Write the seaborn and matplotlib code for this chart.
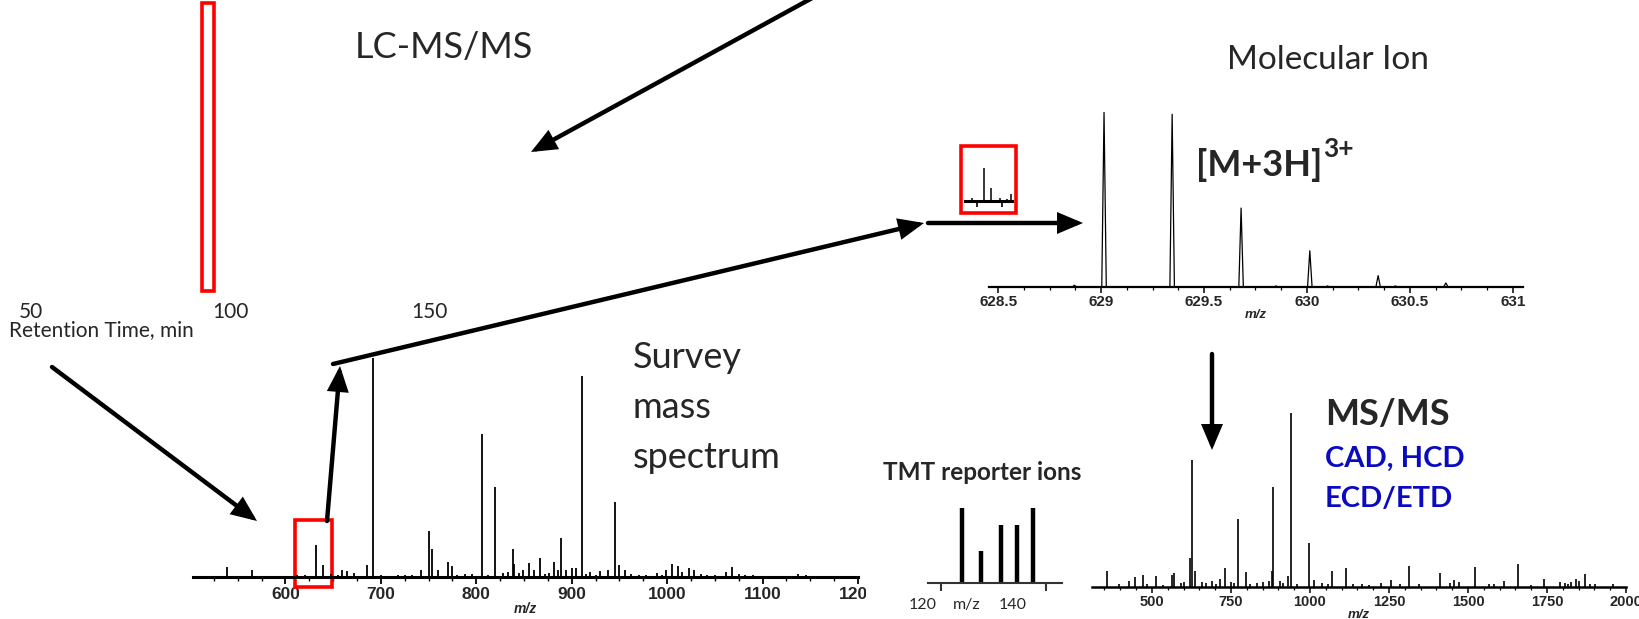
import numpy as np
import pandas as pd
import matplotlib
matplotlib.use("Agg")
import matplotlib.pyplot as plt
import seaborn as sns
from matplotlib.patches import Rectangle, FancyArrowPatch
from matplotlib.ticker import MultipleLocator
from matplotlib.transforms import Bbox, TransformedBbox, blended_transform_factory

# ---------------- data ----------------
rt_ticks = [50, 100, 150]
rt_window = [93, 96]

survey_mz = [539, 565, 612, 620, 632, 639, 648, 655, 659, 665, 672, 685, 692,
             700, 705, 718, 725, 733, 742, 750, 754, 760, 770, 775, 780, 788,
             795, 806, 812, 820, 828, 833, 838, 840, 845, 849, 855, 860, 867,
             872, 876, 881, 886, 889, 894, 900, 904, 911, 915, 919, 925, 930,
             938, 945, 950, 956, 962, 970, 978, 989, 995, 999, 1005, 1011, 1016,
             1023, 1028, 1035, 1042, 1050, 1062, 1068, 1075, 1082, 1090, 1100,
             1120, 1137, 1145, 1160]
survey_int = [4.6, 3.1, 0.8, 1.1, 14.5, 5.6, 1.2, 0.9, 3.1, 2.7, 1.8, 5.3, 100,
              0.8, 0.6, 0.7, 0.9, 0.7, 3.4, 20.9, 12.7, 3.1, 6.7, 4.9, 1.0, 1.5,
              1.3, 65.3, 1.1, 41.2, 1.6, 2.2, 12.7, 6.1, 1.8, 3.4, 6.6, 3.1, 8.9,
              1.5, 2.0, 7.0, 3.4, 18.0, 3.4, 4.3, 4.0, 91.9, 1.2, 2.1, 1.0, 2.7,
              3.4, 34.2, 5.3, 3.1, 1.4, 1.0, 0.8, 1.8, 1.1, 3.4, 6.1, 4.9, 2.3,
              4.3, 3.1, 1.2, 0.9, 1.0, 2.1, 4.6, 1.2, 1.0, 0.7, 0.6,
              0.5, 1.5, 0.7, 0.5]
survey_ticks = [600, 700, 800, 900, 1000, 1100, 1200]

mol_mz = [628.87, 629.014, 629.345, 629.68, 629.85, 630.014, 630.10, 630.346, 630.43, 630.675]
mol_int = [1.0, 100, 98.7, 45.1, 0.6, 20.7, 0.6, 6.5, 0.6, 2.3]
mol_ticks = [628.5, 629, 629.5, 630, 630.5, 631]
mol_ticklabels = ["628.5", "629", "629.5", "630", "630.5", "631"]

msms_mz = [358, 396, 428, 447, 471, 484, 514, 534, 563, 571, 593, 603, 619, 628,
           637, 657, 672, 689, 702, 716, 732, 751, 761, 771, 797, 810, 833, 850,
           870, 880, 883, 906, 914, 932, 941, 958, 997, 1013, 1037, 1057, 1070,
           1113, 1136, 1166, 1186, 1226, 1257, 1284, 1312, 1344, 1410, 1442,
           1456, 1472, 1521, 1566, 1581, 1615, 1658, 1699, 1742, 1791, 1808,
           1815, 1827, 1841, 1852, 1869, 1887, 1903, 1958]
msms_int = [9.4, 1.5, 3.4, 5.6, 6.9, 2.0, 6.1, 1.2, 7.1, 8.0, 2.5, 3.0, 16.7, 73.2,
            9.0, 2.9, 2.2, 3.6, 2.0, 4.6, 10.9, 3.0, 2.5, 39.3, 8.4, 2.0, 2.3, 2.8,
            3.2, 9.4, 57.3, 3.3, 2.5, 6.5, 100, 2.0, 25.3, 4.2, 2.2, 1.8, 9.0,
            10.9, 1.5, 1.8, 1.2, 2.3, 4.2, 2.0, 11.9, 1.5, 8.0, 2.3,
            4.2, 3.0, 11.3, 1.9, 2.0, 3.6, 13.4, 1.2, 4.8, 2.7, 2.5,
            1.9, 3.0, 4.8, 3.5, 7.5, 2.0, 1.9, 1.5]
msms_ticks = [500, 750, 1000, 1250, 1500, 1750, 2000]

tmt_mz = [128.7, 132.9, 137.3, 140.9, 144.4]
tmt_int = [100, 43, 77, 77, 100]

# ---------------- figure ----------------
sns.set_theme(style="white")
plt.rcParams["font.family"] = ["Lato", "DejaVu Sans"]

W, H = 1640, 619
fig = plt.figure(figsize=(W / 100, H / 100), dpi=100)
fig.patch.set_facecolor("white")


def axpx(l, r, t, b):
    ax = fig.add_axes([l / W, 1 - b / H, (r - l) / W, (b - t) / H])
    ax.set_facecolor("none")
    return ax


def fx(x):
    return x / W


def fy(y):
    return 1 - y / H


def strip(ax, lw=1.5, color="black"):
    for s in ["top", "left", "right"]:
        ax.spines[s].set_visible(False)
    ax.spines["bottom"].set_linewidth(lw)
    ax.spines["bottom"].set_color(color)
    ax.set_yticks([])
    ax.grid(False)


def arrow(x0, y0, x1, y1, head=True, lw=3.2):
    style = "-|>,head_length=13,head_width=5.5" if head else "-"
    a = FancyArrowPatch(posA=(fx(x0), fy(y0)), posB=(fx(x1), fy(y1)),
                        transform=fig.transFigure, arrowstyle=style,
                        mutation_scale=1, lw=lw, color="black",
                        shrinkA=0, shrinkB=0, joinstyle="miter")
    fig.add_artist(a)


TICKFONT = dict(fontfamily="Liberation Sans", fontweight="bold")

# ---- chromatogram (tick labels + selection window) ----
axc = axpx(31, 429, 3, 291)
axc.set_xlim(50, 150)
axc.set_ylim(0, 1)
for s in axc.spines.values():
    s.set_visible(False)
axc.set_yticks([])
axc.set_xticks(rt_ticks)
axc.set_xticklabels([str(t) for t in rt_ticks], fontsize=15)
axc.tick_params(axis="x", length=0, pad=8)
axc.axvspan(rt_window[0], rt_window[1], fill=False, ec="#FF0000", lw=2.6, clip_on=False)
axc.set_xlabel("Retention Time, min", fontsize=15, ha="left", va="center")
axc.xaxis.set_label_coords((9 - 31) / 398, (291 - 330) / 288)
axc.grid(False)

# ---- survey spectrum ----
axs = axpx(193, 858, 358, 577)
axs.set_xlim(503.1, 1195.8)
axs.set_ylim(0, 100)
axs.vlines(survey_mz, 0, survey_int, color="black", lw=1.3)
strip(axs, lw=2.2)
axs.set_xticks(survey_ticks)
axs.set_xticklabels([str(t) for t in survey_ticks], fontsize=12.5, **TICKFONT)
axs.xaxis.set_minor_locator(MultipleLocator(25))
axs.tick_params(axis="x", which="major", direction="out", length=5, width=1.3,
                pad=2, bottom=True, color="black")
axs.tick_params(axis="x", which="minor", direction="out", length=3, width=1.0,
                bottom=True, color="black")
axs.set_xlabel("m/z", fontsize=10, fontstyle="italic", labelpad=0, **TICKFONT)
clip = TransformedBbox(Bbox([[0, 0], [fx(866), 1]]), fig.transFigure)
for tk in axs.xaxis.get_major_ticks():
    tk.label1.set_clip_box(clip)
    tk.label1.set_clip_on(True)
axs.add_patch(Rectangle((609.5, -4.6), 39.5, 30.6, fill=False, ec="#FF0000",
                        lw=2.6, clip_on=False))

# ---- mini copy of the selected window ----
axm = axpx(965, 1012, 155, 201)
axm.set_xlim(613, 660)
axm.set_ylim(0, 20)
sel = [(m, i) for m, i in zip(survey_mz, survey_int) if 613 <= m <= 660]
axm.vlines([m for m, _ in sel], 0, [i for _, i in sel], color="black", lw=1.1)
strip(axm, lw=2.2)
axm.set_xticks([625, 650])
axm.set_xticklabels([])
axm.tick_params(axis="x", direction="out", length=4, width=1.2, bottom=True, color="black")
fig.add_artist(Rectangle((fx(961), fy(213)), 55 / W, 67 / H, transform=fig.transFigure,
                         fill=False, ec="#FF0000", lw=2.6))

# ---- molecular ion ----
axi = axpx(989, 1523, 112, 287)
xlo, xhi = 628.455, 631.05
axi.set_xlim(xlo, xhi)
axi.set_ylim(0, 100)
hw = 0.011
px, py = [xlo], [0.0]
for m, i in sorted(zip(mol_mz, mol_int)):
    px += [m - hw, m, m + hw]
    py += [0.0, i, 0.0]
px.append(xhi)
py.append(0.0)
prof = pd.DataFrame({"mz": px, "intensity": py})
sns.lineplot(data=prof, x="mz", y="intensity", sort=False, estimator=None,
             color="black", lw=0.9, ax=axi)
strip(axi, lw=1.6)
axi.set_xticks(mol_ticks)
axi.set_xticklabels(mol_ticklabels, fontsize=11, **TICKFONT)
axi.xaxis.set_minor_locator(MultipleLocator(0.125))
axi.tick_params(axis="x", which="major", direction="out", length=4, width=1.1,
                pad=1.5, bottom=True, color="black")
axi.tick_params(axis="x", which="minor", direction="out", length=2.5, width=0.9,
                bottom=True, color="black")
axi.set_xlabel("m/z", fontsize=9.5, fontstyle="italic", labelpad=0, **TICKFONT)
axi.set_ylabel("")

# ---- MS/MS spectrum ----
axq = axpx(1092, 1626, 413, 587)
axq.set_xlim(310.5, 1981.4)
axq.set_ylim(0, 100)
axq.vlines(msms_mz, 0, msms_int, color="black", lw=1.2)
strip(axq, lw=1.8)
axq.set_xticks(msms_ticks)
axq.set_xticklabels([str(t) for t in msms_ticks], fontsize=10.5, **TICKFONT)
axq.xaxis.set_minor_locator(MultipleLocator(50))
axq.tick_params(axis="x", which="major", direction="out", length=4, width=1.1,
                pad=1.5, bottom=True, color="black")
axq.tick_params(axis="x", which="minor", direction="out", length=2.5, width=0.9,
                bottom=True, color="black")
axq.set_xlabel("m/z", fontsize=9.5, fontstyle="italic", labelpad=0, **TICKFONT)

# ---- TMT reporter ions ----
axt = axpx(928, 1062, 508, 583)
axt.set_xlim(121.1, 150.9)
axt.set_ylim(0, 100)
axt.vlines(tmt_mz, 0, tmt_int, color="black", lw=3.2)
strip(axt, lw=1.5, color="#333333")
axt.set_xticks([124, 147.3])
axt.set_xticklabels([])
axt.tick_params(axis="x", direction="out", length=6, width=1.5, bottom=True, color="#333333")
tr = blended_transform_factory(axt.transData, axt.transAxes)
for xv, s in [(120, "120"), (129.6, "m/z"), (140, "140")]:
    axt.text(xv, (583 - 605) / 75, s, transform=tr, ha="center", va="center",
             fontsize=11.5)

# ---------------- texts ----------------
fig.text(fx(444), fy(47), "LC-MS/MS", fontsize=26, ha="center", va="center")
fig.text(fx(1328), fy(60), "Molecular Ion", fontsize=24, ha="center", va="center")
for yy, s in [(358, "Survey"), (408, "mass"), (457, "spectrum")]:
    fig.text(fx(633), fy(yy), s, fontsize=26, ha="left", va="center")
ion = fig.text(fx(1196), fy(176), "[M+3H]", fontsize=26, fontweight="bold",
               ha="left", va="baseline")
fig.canvas.draw()
bb = ion.get_window_extent(renderer=fig.canvas.get_renderer())
fig.text((bb.x1 + 1) / W, fy(157), "3+", fontsize=19, fontweight="bold",
         ha="left", va="baseline")
fig.text(fx(1325), fy(425), "MS/MS", fontsize=26, fontweight="bold", ha="left", va="baseline")
blue = "#0A0AC0"
fig.text(fx(1325), fy(467), "CAD, HCD", fontsize=21, fontweight="bold", color=blue,
         ha="left", va="baseline")
fig.text(fx(1325), fy(507), "ECD/ETD", fontsize=21, fontweight="bold", color=blue,
         ha="left", va="baseline")
fig.text(fx(982), fy(480), "TMT reporter ions", fontsize=17.5, fontweight="bold",
         ha="center", va="baseline")

# ---------------- arrows ----------------
arrow(814, -3, 531, 152)
arrow(52, 367, 257, 521)
arrow(327, 521, 340, 366)
arrow(333, 364, 924, 223)
arrow(928, 223, 1083, 223)
arrow(1212, 354, 1212, 450)

fig.savefig("out.png", dpi=100, facecolor="white")
